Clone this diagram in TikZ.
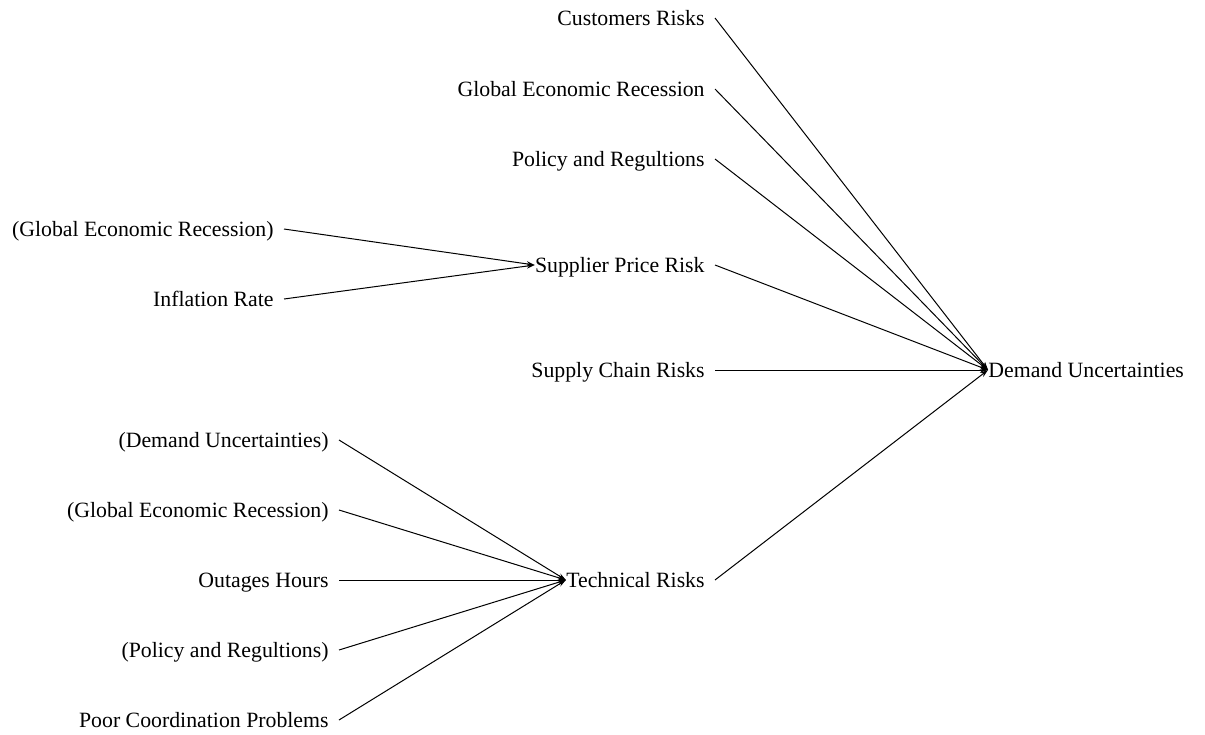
\documentclass[tikz,border=0pt]{standalone}
\usepackage{fontspec}
\setmainfont{Liberation Serif}
\usetikzlibrary{arrows.meta}
\tikzset{
  cause/.style={anchor=east, inner xsep=0pt, inner ysep=0pt, text height=0.9em, text depth=0.17em, font=\fontsize{10.9}{13}\selectfont},
  effect/.style={cause, anchor=west},
  link/.style={line width=0.5pt, -{Stealth[length=4pt,width=2.6pt]}}
}

\begin{document}
\begin{tikzpicture}[x=0.5pt, y=-0.5pt]
		%%%%% START %%%%%
		\useasboundingbox (0, 0) rectangle (1205, 734);
		
		% main effect
		\node[effect] (demand) at (988, 370) {Demand Uncertainties};
		
		% causes of demand uncertainties
		\node[cause] (customers) at (705, 18) {Customers Risks};
		\node[cause] (recession) at (705, 89) {Global Economic Recession};
		\node[cause] (policy) at (705, 159) {Policy and Regultions};
		\node[cause] (supplier) at (705, 265) {Supplier Price Risk};
		\node[cause] (chain) at (705, 370) {Supply Chain Risks};
		\node[cause] (technical) at (705, 580) {Technical Risks};
		
		% causes of supplier price risk
		\node[cause] (recessiontwo) at (274, 229) {(Global Economic Recession)};
		\node[cause] (inflation) at (274, 299) {Inflation Rate};
		
		% causes of technical risks
		\node[cause] (demandtwo) at (329, 440) {(Demand Uncertainties)};
		\node[cause] (recessionthree) at (329, 510) {(Global Economic Recession)};
		\node[cause] (outages) at (329, 580) {Outages Hours};
		\node[cause] (policytwo) at (329, 650) {(Policy and Regultions)};
		\node[cause] (coordination) at (329, 720) {Poor Coordination Problems};
		
		\foreach \n in {customers, recession, policy, supplier, chain, technical}
			\draw[link] ([xshift=5pt]\n.east) -- (demand.west);
		
		\foreach \n in {recessiontwo, inflation}
			\draw[link] ([xshift=5pt]\n.east) -- (supplier.west);
		
		\foreach \n in {demandtwo, recessionthree, outages, policytwo, coordination}
			\draw[link] ([xshift=5pt]\n.east) -- (technical.west);
		
		%%%%% END %%%%%
	\end{tikzpicture}
\end{document}
